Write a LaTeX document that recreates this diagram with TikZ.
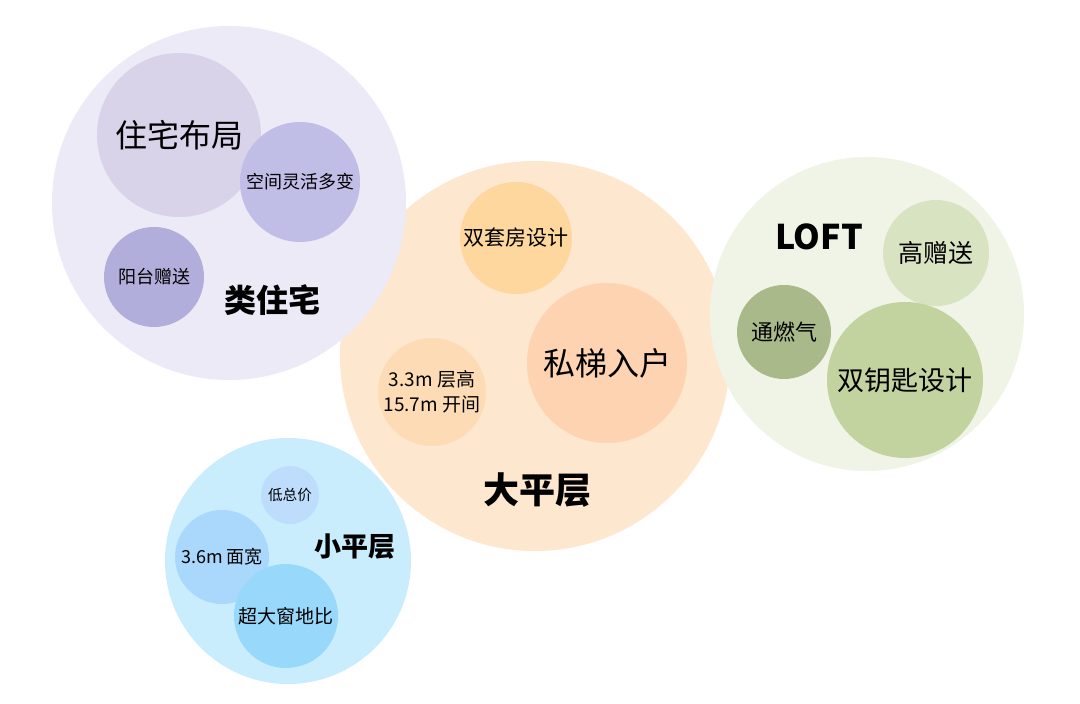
\documentclass[tikz,border=0pt]{standalone}
\usepackage{fontspec}
\setmainfont{Noto Sans CJK SC}
\newcommand{\fsz}[1]{\fontsize{#1}{1.3\dimexpr#1pt\relax}\selectfont}
% bubble colours
\definecolor{lilacbg}{HTML}{EDEAF7}
\definecolor{lilaca}{HTML}{D9D3EA}
\definecolor{lilacb}{HTML}{C0BDE7}
\definecolor{lilacc}{HTML}{B2AEDB}
\definecolor{peachbg}{HTML}{FDE7CF}
\definecolor{peacha}{HTML}{FDD79E}
\definecolor{peachb}{HTML}{FDD3B1}
\definecolor{peachc}{HTML}{FDDCB5}
\definecolor{sagebg}{HTML}{F0F4E7}
\definecolor{sagea}{HTML}{D8E4C1}
\definecolor{sageb}{HTML}{A9B989}
\definecolor{sagec}{HTML}{C3D39F}
\definecolor{skybg}{HTML}{C9EDFC}
\definecolor{skya}{HTML}{BEDDFD}
\definecolor{skyb}{HTML}{A9D8FC}
\definecolor{skyc}{HTML}{97D8FB}
\tikzset{
  % #1 = radius in px (1px = 0.5pt)
  bubble/.style={circle, inner sep=0pt, minimum size=#1pt, align=center},
  title/.style={font=\bfseries\fsz{#1}},
}
\begin{document}
\begin{tikzpicture}[x=0.5pt,y=-0.5pt]
  \fill[white] (0,0) rectangle (1080,704);
  \useasboundingbox (0,0) rectangle (1080,704);
  % the four groups
  \node[bubble=195, fill=peachbg] (pingceng) at (535,356) {};
  \node[bubble=177, fill=lilacbg] (leizhuzhai) at (229,203) {};
  \node[bubble=123, fill=skybg] (xiaopingceng) at (288,561) {};
  \node[bubble=157, fill=sagebg] (loft) at (867,314) {};
  % 类住宅
  \node[bubble=82, fill=lilaca, font=\fsz{16}] (buju) at (179,135) {住宅布局};
  \node[bubble=60, fill=lilacb, font=\fsz{9}] (kongjian) at (300,182) {空间灵活多变};
  \node[bubble=50, fill=lilacc, font=\fsz{9}] (yangtai) at (154,277) {阳台赠送};
  % 大平层
  \node[bubble=56, fill=peacha, font=\fsz{10.5}] (taofang) at (516,238) {双套房设计};
  \node[bubble=80, fill=peachb, font=\fsz{16}] (siti) at (607,363) {私梯入户};
  \node[bubble=54, fill=peachc, font=\fsz{9.5}] (cenggao) at (432,392) {3.3m 层高\\15.7m 开间};
  % LOFT
  \node[bubble=53, fill=sagea, font=\fsz{12.5}] (zengsong) at (936,253) {高赠送};
  \node[bubble=47, fill=sageb, font=\fsz{11}] (ranqi) at (784,332) {通燃气};
  \node[bubble=78, fill=sagec, font=\fsz{13.5}] (yaoshi) at (905,380) {双钥匙设计};
  % 小平层
  \node[bubble=29, fill=skya, font=\fsz{7.3}] (zongjia) at (290,495) {低总价};
  \node[bubble=47, fill=skyb, font=\fsz{9}] (miankuan) at (222,557) {3.6m 面宽};
  \node[bubble=52, fill=skyc, font=\fsz{9.5}] (chuangdi) at (286,616) {超大窗地比};
  % titles
  \node[title=16] (t1) at (272,300) {类住宅};
  \node[title=18] (t2) at (537,490) {大平层};
  \node[title=17] (t3) at (819,237) {LOFT};
  \node[title=13.5] (t4) at (355,547) {小平层};
\end{tikzpicture}
\end{document}
